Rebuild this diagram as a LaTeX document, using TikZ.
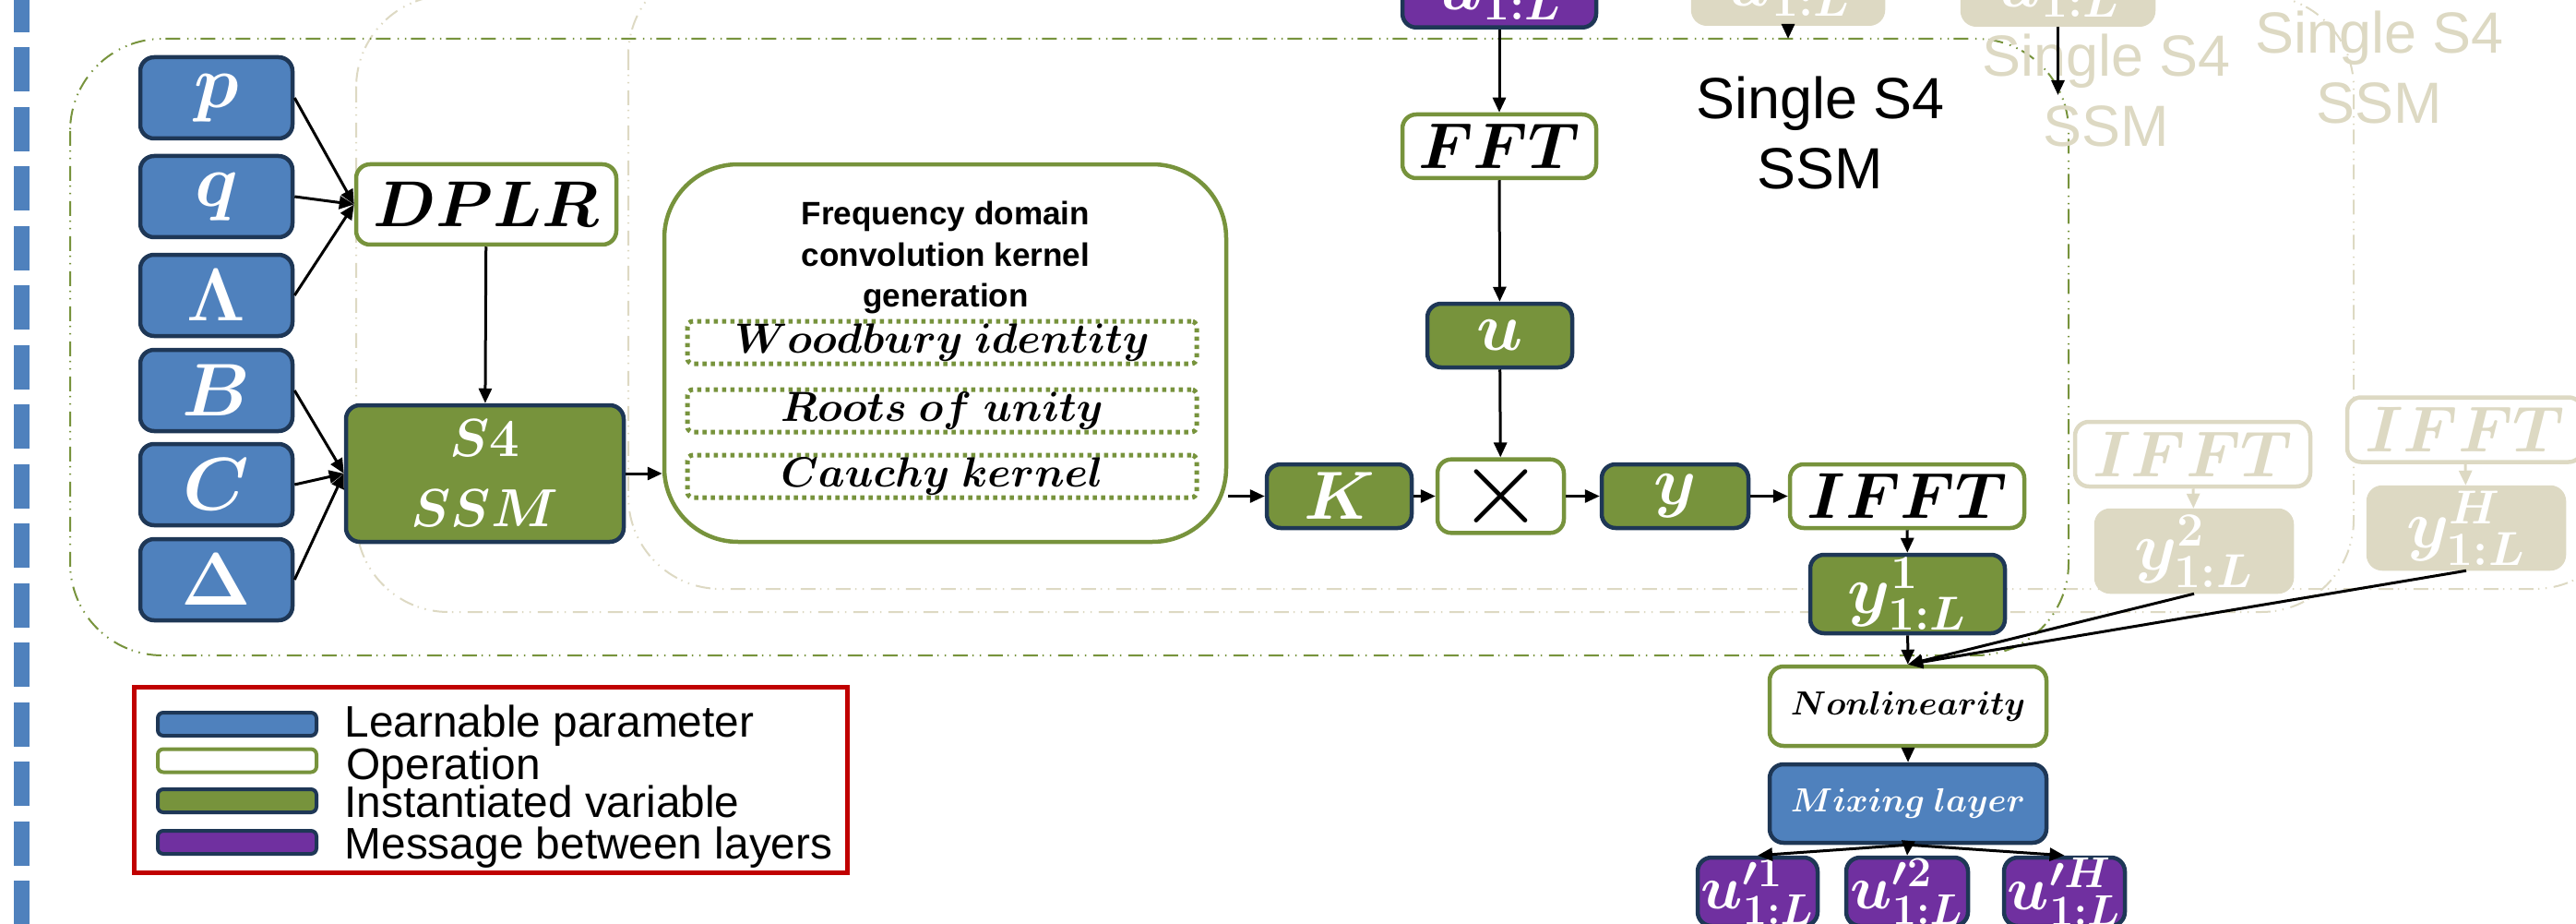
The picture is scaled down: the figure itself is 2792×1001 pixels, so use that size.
\RequirePackage{fix-cm}
\documentclass[tikz,border=0pt]{standalone}
\usepackage[no-math]{fontspec}
\setmainfont{Liberation Sans}
\usepackage{bm}
\usetikzlibrary{arrows.meta}

\definecolor{pblue}{HTML}{4F81BD}
\definecolor{navy}{HTML}{1E3756}
\definecolor{olive}{HTML}{77933C}
\definecolor{mpurple}{HTML}{7030A0}
\definecolor{beige}{HTML}{DDD9C3}
\definecolor{lred}{HTML}{C00000}

\tikzset{
  box/.style = {rectangle, rounded corners=1.5mm, line width=0.45mm, inner sep=0pt,
    minimum height=6.9mm, text=white, font=\fontsize{21}{24}\selectfont},
  param/.style = {box, fill=pblue, draw=navy, minimum width=16.5mm, minimum height=8.8mm,
    font=\fontsize{23}{24}\selectfont},
  oper/.style = {box, fill=white, draw=olive, text=black},
  inst/.style = {box, fill=olive, draw=navy},
  msg/.style = {box, fill=mpurple, draw=navy},
  shade/.style = {box, fill=beige, draw=beige},
  shadeop/.style = {box, fill=white, draw=beige, text=beige},
  trick/.style = {rectangle, rounded corners=0.6mm, line width=0.5mm, draw=olive,
    dash pattern=on 0.45mm off 0.45mm, minimum width=55.2mm, minimum height=4.6mm,
    inner sep=0pt, font=\fontsize{13}{15}\selectfont},
  arr/.style = {-{Triangle[length=1.6mm,width=1.4mm]}, line width=0.3mm},
  layer/.style = {rounded corners=10mm, line width=0.2mm,
    dash pattern=on 1.6mm off 0.5mm on 0.15mm off 0.65mm on 0.15mm off 0.75mm},
  title/.style = {align=center, inner sep=0pt, font=\fontsize{17.9}{21.6}\selectfont},
  key/.style = {anchor=base west, inner sep=0pt, font=\fontsize{13.6}{15}\selectfont},
}

\begin{document}
\begin{tikzpicture}[x=0.1mm, y=-0.1mm]
  \useasboundingbox (0,0) rectangle (2792,1001);
  \clip (0,0) rectangle (2792,1001);

  % dashed separator on the left
  \draw[pblue, line width=1.7mm, dash pattern=on 4.8mm off 1.65mm] (23,-13) -- (23,1001);

  % stacked S4 layers, the first one in front
  \draw[layer, beige] (681,-40) rectangle (2847,638);
  \draw[layer, beige] (386,-5) rectangle (2551,663);
  \draw[layer, olive] (76,42) rectangle (2242,710);

  \node[title, text=beige] (title3) at (2579,73) {Single S4\\SSM};
  \node[title, text=beige] (title2) at (2283,98) {Single S4\\SSM};
  \node[title] (title1) at (1973,144) {Single S4\\SSM};

  % learnable parameters
  \node[param] (p) at (234.5,106) {$\bm{p}$};
  \node[param] (q) at (234.5,213) {$\bm{q}$};
  \node[param] (lam) at (234.5,320) {$\bm{\Lambda}$};
  \node[param] (b) at (234.5,423) {$\bm{B}$};
  \node[param] (c) at (234.5,525) {$\bm{C}$};
  \node[param] (delta) at (234.5,628) {$\bm{\Delta}$};

  \node[oper, minimum width=28.2mm, minimum height=8.7mm, font=\fontsize{20}{24}\selectfont]
    (dplr) at (527,221.5) {$\bm{DPLR}$};
  \node[inst, minimum width=30.1mm, minimum height=14.8mm, align=center,
    font=\fontsize{16.5}{21.6}\selectfont] (ssm) at (525.5,513) {$\bm{S4}$\\$\bm{SSM}$};

  % kernel generation
  \node[oper, rounded corners=8mm, minimum width=60.9mm, minimum height=40.9mm]
    (freq) at (1024.5,382.5) {};
  \node[align=center, inner sep=0pt, font=\bfseries\fontsize{10}{12.8}\selectfont]
    (freqtxt) at (1025,279) {Frequency domain\\convolution kernel\\generation};
  \node[trick] (wood) at (1021,371) {$\bm{Woodbury\ identity}$};
  \node[trick] (roots) at (1021,445) {$\bm{Roots\ of\ unity}$};
  \node[trick] (cauchy) at (1021,516) {$\bm{Cauchy\ kernel}$};

  % input branch
  \node[msg, minimum width=21mm, minimum height=6.1mm, anchor=south] (uin) at (1625,32) {$\bm{u_{1:L}}$};
  \node[oper, minimum width=21mm, font=\fontsize{20}{24}\selectfont] (fft) at (1625,158.5) {$\bm{FFT}$};
  \node[inst, minimum width=15.7mm] (u) at (1625.5,363.5) {$\bm{u}$};

  \node[inst, minimum width=15.7mm] (k) at (1451.5,537.5) {$\bm{K}$};
  \node[oper, minimum width=13.7mm, font=\fontsize{34}{36}\selectfont] (mult) at (1626.5,537.5) {$\times$};
  \node[inst, minimum width=15.9mm] (y) at (1815.5,537.5) {$\bm{y}$};
  \node[oper, minimum width=25.4mm, font=\fontsize{20}{24}\selectfont] (ifft) at (2067,537.5) {$\bm{IFFT}$};
  \node[inst, minimum width=21.1mm, minimum height=8.5mm] (y1) at (2067.5,643.5) {$\bm{y^1_{1:L}}$};

  % copies behind
  \node[shade, minimum width=20.6mm, minimum height=6.1mm, anchor=south] (u2) at (1938,28) {$\bm{u_{1:L}}$};
  \node[shade, minimum width=20.7mm, minimum height=6.1mm, anchor=south] (u3) at (2230.5,29) {$\bm{u_{1:L}}$};
  \node[shadeop, minimum width=25.5mm, minimum height=7mm, font=\fontsize{20}{24}\selectfont]
    (ifft2) at (2376.5,492) {$\bm{IFFT}$};
  \node[shade, minimum width=21.2mm, minimum height=8.8mm] (y2) at (2378,597) {$\bm{y^2_{1:L}}$};
  \node[shadeop, minimum width=25.5mm, minimum height=7mm, font=\fontsize{20}{24}\selectfont]
    (ifft3) at (2671.5,465.5) {$\bm{IFFT}$};
  \node[shade, minimum width=21.2mm, minimum height=8.8mm] (yh) at (2673,572) {$\bm{y^H_{1:L}}$};
  \coordinate (u2end) at (1938,42);
  \coordinate (u3end) at (2230.5,103);

  % output part
  \node[oper, minimum width=30mm, minimum height=8.6mm, font=\fontsize{10.3}{12}\selectfont]
    (nonlin) at (2068,765) {$\bm{Nonlinearity}$};
  \node[param, minimum width=30mm, minimum height=8.5mm, font=\fontsize{10.3}{12}\selectfont]
    (mix) at (2068,870.5) {$\bm{Mixing\ layer}$};
  \node[msg, minimum width=13mm, minimum height=7.4mm, font=\fontsize{19}{22}\selectfont]
    (out1) at (1905,966) {$\bm{u^{\prime 1}_{1:L}}$};
  \node[msg, minimum width=13.2mm, minimum height=7.4mm, font=\fontsize{19}{22}\selectfont]
    (out2) at (2067,966) {$\bm{u^{\prime 2}_{1:L}}$};
  \node[msg, minimum width=13.1mm, minimum height=7.4mm, font=\fontsize{19}{22}\selectfont]
    (outh) at (2237.5,966) {$\bm{u^{\prime H}_{1:L}}$};

  % connections
  \foreach \s in {p,q,lam} \draw[arr] (\s.east) -- (dplr.west);
  \foreach \s in {b,c,delta} \draw[arr] (\s.east) -- (ssm.west);
  \draw[arr] (dplr) -- (ssm);
  \draw[arr] (ssm.east) -- (ssm.east -| freq.west);
  \draw[arr] (k.west -| freq.east) -- (k.west);
  \draw[arr] (k) -- (mult);
  \draw[arr] (mult) -- (y);
  \draw[arr] (y) -- (ifft);
  \draw[arr] (uin) -- (fft);
  \draw[arr] (fft) -- (u);
  \draw[arr] (u) -- (mult);
  \draw[arr] (ifft) -- (y1);
  \draw[arr] (y1) -- (nonlin);
  \draw[arr] (nonlin) -- (mix);
  \draw[arr, beige] (ifft2) -- (y2);
  \draw[arr, beige] (ifft3) -- (yh);
  \draw[arr] (u2.south) -- (u2end);
  \draw[arr] (u3.south) -- (u3end);
  \draw[arr] (y2.south) -- (nonlin.north);
  \draw[arr] (yh.south) -- (nonlin.north);
  \foreach \t in {out1,out2,outh} \draw[arr] (mix.south) -- (\t.north);

  % legend
  \draw[lred, line width=0.5mm] (145,744) rectangle (918,945);
  \node[param, minimum width=17.2mm, minimum height=2.5mm, rounded corners=0.6mm, line width=0.4mm]
    (keyparam) at (257,784.5) {};
  \node[oper, minimum width=17.2mm, minimum height=2.5mm, rounded corners=0.6mm, line width=0.4mm]
    (keyoper) at (257,824) {};
  \node[inst, minimum width=17.2mm, minimum height=2.5mm, rounded corners=0.6mm, line width=0.4mm]
    (keyinst) at (257,867.5) {};
  \node[msg, minimum width=17.2mm, minimum height=2.5mm, rounded corners=0.6mm, line width=0.4mm]
    (keymsg) at (257,912.5) {};
  \node[key] (txtparam) at (373,798) {Learnable parameter};
  \node[key] (txtoper) at (375,844) {Operation};
  \node[key] (txtinst) at (373,885) {Instantiated variable};
  \node[key] (txtmsg) at (373,930) {Message between layers};
\end{tikzpicture}
\end{document}
